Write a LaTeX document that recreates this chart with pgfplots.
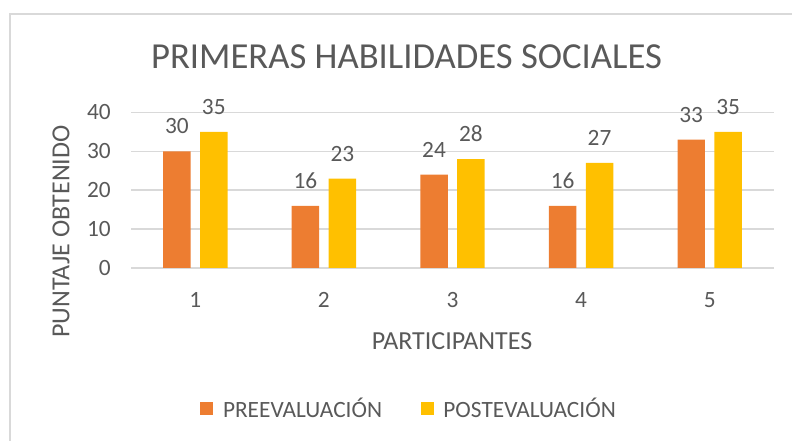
\documentclass[border=0pt]{standalone}
\usepackage{pgfplots}
\pgfplotsset{compat=1.18}
\usepackage{fontspec}
\setmainfont{Carlito}
\definecolor{orangeS}{HTML}{ED7D31}
\definecolor{yellowS}{HTML}{FFC000}
\definecolor{txt}{HTML}{595959}
\definecolor{gridc}{HTML}{D9D9D9}
\begin{document}
\begin{tikzpicture}
\path[use as bounding box] (0pt,0pt) rectangle (594pt,330.75pt);
\draw[gridc, line width=1.1pt] (7.5pt,0pt) -- (7.5pt,320.25pt) -- (594pt,320.25pt);
\node[anchor=base, text=txt, font=\fontsize{27.5}{30}\selectfont] at (304.9pt,279.5pt) {PRIMERAS HABILIDADES SOCIALES};
\node[anchor=base, text=txt, font=\fontsize{19.5}{22}\selectfont] at (339pt,68.25pt) {PARTICIPANTES};
\node[anchor=base, rotate=90, text=txt, font=\fontsize{19.5}{22}\selectfont] at (52pt,157.1pt) {PUNTAJE OBTENIDO};
\begin{axis}[
 at={(98.25pt,129.75pt)}, anchor=south west,
 scale only axis, width=482.25pt, height=116.7pt,
 ymin=0, ymax=40, xmin=0.5, xmax=5.5,
 ytick={0,10,20,30,40}, xtick={1,2,3,4,5},
 axis line style={draw=none}, major tick length=0pt,
 ymajorgrids, grid style={gridc, line width=1.1pt},
 ybar=7.1pt, bar width=20.6pt,
 tick label style={font=\fontsize{17.5}{20}\selectfont, text=txt, inner sep=0pt},
 /pgf/number format/assume math mode=true,
 yticklabel style={xshift=-15pt},
 xticklabel style={yshift=-18pt},
 nodes near coords,
 nodes near coords style={font=\fontsize{17.5}{20}\selectfont, text=txt, inner sep=0pt, anchor=south, yshift=12.75pt},
 legend columns=2,
 legend image code/.code={\fill[#1, draw=none] (0pt,-4.875pt) rectangle (9.75pt,4.875pt); \path (15pt,0pt);},
 legend style={draw=none, fill=none, at={(axis description cs:0.433,-0.906)}, anchor=center,
   font=\fontsize{17.5}{20}\selectfont, text=txt,
   /tikz/every even column/.append style={column sep=27pt}},
]
\addplot[fill=orangeS, draw=none] coordinates {(1,30) (2,16) (3,24) (4,16) (5,33)};
\addplot[fill=yellowS, draw=none] coordinates {(1,35) (2,23) (3,28) (4,27) (5,35)};
\legend{PREEVALUACIÓN, POSTEVALUACIÓN}
\end{axis}
\end{tikzpicture}
\end{document}
